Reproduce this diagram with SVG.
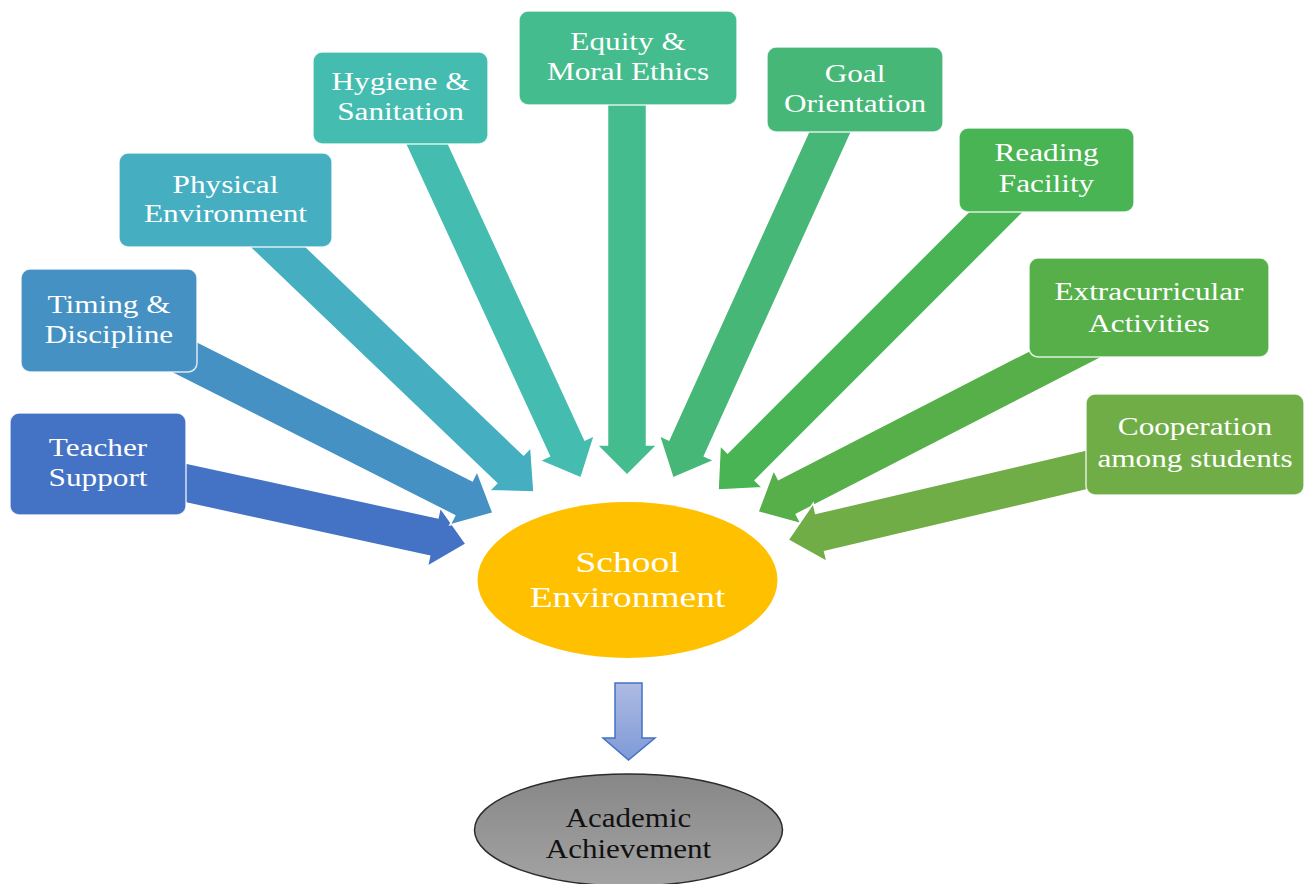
<svg xmlns="http://www.w3.org/2000/svg" width="1305" height="884" viewBox="0 0 1305 884">
  <defs>
    <linearGradient id="downFill" x1="0" y1="0" x2="0" y2="1">
      <stop offset="0" stop-color="#aebbe2"/>
      <stop offset="1" stop-color="#7e9ad8"/>
    </linearGradient>
    <linearGradient id="grayFill" x1="0" y1="0" x2="0" y2="1">
      <stop offset="0" stop-color="#878787"/>
      <stop offset="1" stop-color="#a3a3a3"/>
    </linearGradient>
  </defs>
  <style>
    .box { stroke: #ffffff; stroke-width: 1.5; stroke-opacity: 0.8; }
    .arrow { stroke: #ffffff; stroke-width: 1.5; stroke-linejoin: miter; }
    .lbl { font-family: "Liberation Serif", "Times New Roman", serif; font-size: 25px; fill: #ffffff; text-anchor: middle; }
    .big { font-size: 30px; }
    .dark { fill: #111111; font-size: 27px; }
  </style>
  <rect width="1305" height="884" fill="#ffffff"/>

  <!-- block arrows from each factor into the centre -->
  <g id="connectors">
    <polygon class="arrow" fill="#4472c4" transform="translate(186,483) rotate(12.29)" points="-60,-19.5 253.6,-19.5 253.6,-30 286.6,0 253.6,30 253.6,19.5 -60,19.5"/>
    <polygon class="arrow" fill="#4591c3" transform="translate(186,358) rotate(26.79)" points="-60,-19.5 310.9,-19.5 310.9,-30 343.9,0 310.9,30 310.9,19.5 -60,19.5"/>
    <polygon class="arrow" fill="#45afc1" transform="translate(278,247) rotate(43.74)" points="-60,-19.5 321.3,-19.5 321.3,-30 354.3,0 321.3,30 321.3,19.5 -60,19.5"/>
    <polygon class="arrow" fill="#44bdb0" transform="translate(427,144) rotate(65.25)" points="-60,-19.5 334.8,-19.5 334.8,-30 367.8,0 334.8,30 334.8,19.5 -60,19.5"/>
    <polygon class="arrow" fill="#45bc8e" transform="translate(627,105) rotate(90)" points="-60,-19.5 340,-19.5 340,-30 370,0 340,30 340,19.5 -60,19.5"/>
    <polygon class="arrow" fill="#46b777" transform="translate(830,132) rotate(114.41)" points="-60,-19.5 347,-19.5 347,-30 380,0 347,30 347,19.5 -60,19.5"/>
    <polygon class="arrow" fill="#49b453" transform="translate(996,212) rotate(135)" points="-60,-19.5 360.1,-19.5 360.1,-30 393.1,0 360.1,30 360.1,19.5 -60,19.5"/>
    <polygon class="arrow" fill="#56af49" transform="translate(1050,362) rotate(152.81)" points="-60,-19.5 295.3,-19.5 295.3,-30 328.3,0 295.3,30 295.3,19.5 -60,19.5"/>
    <polygon class="arrow" fill="#70ad47" transform="translate(1086,470) rotate(166.78)" points="-60,-19.5 273.1,-19.5 273.1,-30 306.1,0 273.1,30 273.1,19.5 -60,19.5"/>
    <!-- outcome arrow -->
    <polygon fill="url(#downFill)" stroke="#4472c4" stroke-width="1.5" points="615,683 642,683 642,738 655,738 628.5,760 603,738 615,738"/>
  </g>

  <g id="teacher-support">
    <rect class="box" x="10" y="413" width="176" height="102" rx="9" fill="#4472c4"/>
    <text class="lbl" transform="matrix(1.25 0 0 1 98 456)">Teacher</text>
    <text class="lbl" transform="matrix(1.25 0 0 1 98 486)">Support</text>
  </g>
  <g id="timing-discipline">
    <rect class="box" x="21" y="269" width="176" height="103" rx="9" fill="#4591c3"/>
    <text class="lbl" transform="matrix(1.25 0 0 1 109 313)">Timing &amp;</text>
    <text class="lbl" transform="matrix(1.25 0 0 1 109 343)">Discipline</text>
  </g>
  <g id="physical-environment">
    <rect class="box" x="119" y="153" width="213" height="94" rx="9" fill="#45afc1"/>
    <text class="lbl" transform="matrix(1.25 0 0 1 225.5 193)">Physical</text>
    <text class="lbl" transform="matrix(1.25 0 0 1 225.5 222)">Environment</text>
  </g>
  <g id="hygiene-sanitation">
    <rect class="box" x="313" y="52" width="175" height="92" rx="9" fill="#44bdb0"/>
    <text class="lbl" transform="matrix(1.25 0 0 1 400.5 90)">Hygiene &amp;</text>
    <text class="lbl" transform="matrix(1.25 0 0 1 400.5 120)">Sanitation</text>
  </g>
  <g id="equity-moral-ethics">
    <rect class="box" x="519" y="11" width="218" height="94" rx="9" fill="#45bc8e"/>
    <text class="lbl" transform="matrix(1.25 0 0 1 628 50)">Equity &amp;</text>
    <text class="lbl" transform="matrix(1.25 0 0 1 628 80)">Moral Ethics</text>
  </g>
  <g id="goal-orientation">
    <rect class="box" x="767" y="47" width="176" height="85" rx="9" fill="#46b777"/>
    <text class="lbl" transform="matrix(1.25 0 0 1 855 82)">Goal</text>
    <text class="lbl" transform="matrix(1.25 0 0 1 855 112)">Orientation</text>
  </g>
  <g id="reading-facility">
    <rect class="box" x="959" y="128" width="175" height="84" rx="9" fill="#49b453"/>
    <text class="lbl" transform="matrix(1.25 0 0 1 1046.5 161)">Reading</text>
    <text class="lbl" transform="matrix(1.25 0 0 1 1046.5 192)">Facility</text>
  </g>
  <g id="extracurricular-activities">
    <rect class="box" x="1029" y="258" width="240" height="99" rx="9" fill="#56af49"/>
    <text class="lbl" transform="matrix(1.25 0 0 1 1149 300)">Extracurricular</text>
    <text class="lbl" transform="matrix(1.25 0 0 1 1149 332)">Activities</text>
  </g>
  <g id="cooperation-among-students">
    <rect class="box" x="1086" y="394" width="218" height="101" rx="9" fill="#70ad47"/>
    <text class="lbl" transform="matrix(1.25 0 0 1 1195 435)">Cooperation</text>
    <text class="lbl" transform="matrix(1.25 0 0 1 1195 467)">among students</text>
  </g>

  <g id="school-environment">
    <ellipse cx="627.5" cy="580" rx="150" ry="78" fill="#ffc000"/>
    <text class="lbl big" transform="matrix(1.25 0 0 1 627.5 572)">School</text>
    <text class="lbl big" transform="matrix(1.25 0 0 1 627.5 607)">Environment</text>
  </g>

  <g id="academic-achievement">
    <ellipse cx="628.5" cy="830" rx="154" ry="56" fill="url(#grayFill)" stroke="#2b2b2b" stroke-width="1.5"/>
    <text class="lbl dark" transform="matrix(1.15 0 0 1 628.5 827)">Academic</text>
    <text class="lbl dark" transform="matrix(1.15 0 0 1 628.5 858)">Achievement</text>
  </g>
</svg>
